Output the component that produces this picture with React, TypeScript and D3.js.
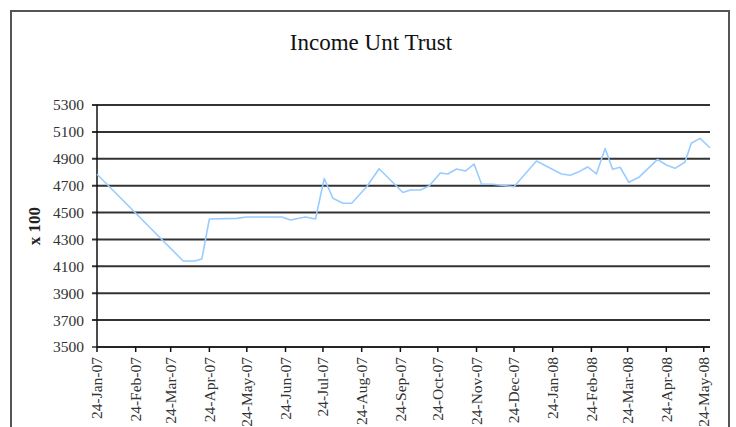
import React from 'react';
import * as d3 from 'd3';

// weekly-ish fund prices (x 100)
const dates = [
  '2007-01-24', '2007-04-03', '2007-04-12', '2007-04-18', '2007-04-24', '2007-05-16',
  '2007-05-24', '2007-06-21', '2007-06-28', '2007-07-10', '2007-07-18', '2007-07-25',
  '2007-08-01', '2007-08-09', '2007-08-16', '2007-08-28', '2007-09-07', '2007-09-20',
  '2007-09-26', '2007-10-02', '2007-10-10', '2007-10-17', '2007-10-26', '2007-11-01',
  '2007-11-08', '2007-11-15', '2007-11-22', '2007-11-28', '2007-12-07', '2007-12-24',
  '2008-01-11', '2008-01-31', '2008-02-07', '2008-02-13', '2008-02-21', '2008-02-28',
  '2008-03-06', '2008-03-12', '2008-03-18', '2008-03-25', '2008-04-02', '2008-04-17',
  '2008-04-24', '2008-05-01', '2008-05-09', '2008-05-14', '2008-05-21', '2008-05-29',
];
const prices = [
  4785, 4140, 4140, 4155, 4452, 4457,
  4467, 4467, 4445, 4467, 4452, 4753,
  4606, 4569, 4569, 4692, 4826, 4705,
  4649, 4668, 4668, 4697, 4794, 4787,
  4824, 4809, 4861, 4712, 4710, 4692,
  4883, 4787, 4777, 4799, 4839, 4787,
  4976, 4822, 4837, 4725, 4762, 4895,
  4854, 4829, 4876, 5015, 5052, 4982,
];
const yTicks = [3500, 3700, 3900, 4100, 4300, 4500, 4700, 4900, 5100, 5300];
const xTickDates = [
  '2007-01-24', '2007-02-24', '2007-03-24', '2007-04-24', '2007-05-24', '2007-06-24',
  '2007-07-24', '2007-08-24', '2007-09-24', '2007-10-24', '2007-11-24', '2007-12-24',
  '2008-01-24', '2008-02-24', '2008-03-24', '2008-04-24', '2008-05-24',
];

const W = 736;
const H = 427;
const margin = { left: 97, right: 26, top: 105, bottom: 80 };
const font = '"Liberation Serif", "DejaVu Serif", serif';

export default function App() {
  const parse = d3.utcParse('%Y-%m-%d');
  const fmt = d3.utcFormat('%d-%b-%y');
  const data = dates.map((d, i) => ({ date: parse(d) as Date, value: prices[i] }));
  const ticks = xTickDates.map(d => parse(d) as Date);

  const x = d3.scaleUtc()
    .domain([data[0].date, data[data.length - 1].date])
    .range([margin.left, W - margin.right]);
  const y = d3.scaleLinear()
    .domain([3500, 5300])
    .range([H - margin.bottom, margin.top]);

  const line = d3.line<{ date: Date; value: number }>()
    .x(d => x(d.date))
    .y(d => y(d.value));

  const x0 = margin.left;
  const x1 = W - margin.right;
  const yBase = y(3500);

  return (
    <svg width={W} height={H} style={{ position: 'absolute', left: 0, top: 0, background: '#fff' }}>
      <rect x={11} y={11} width={718} height={440} fill="#fff" stroke="#555" strokeWidth={2} />
      <text x={371} y={50} textAnchor="middle" fontFamily={font} fontSize={23} fill="#111">
        Income Unt Trust
      </text>

      {/* gridlines */}
      {yTicks.map(t => (
        <g key={t}>
          <line x1={x0 - 5} x2={x1} y1={y(t)} y2={y(t)} stroke="#333" strokeWidth={t === 3500 ? 1.5 : 2} />
          <text x={84} y={y(t)} dy="0.35em" textAnchor="end" fontFamily={font} fontSize={15.5} fill="#333">
            {t}
          </text>
        </g>
      ))}

      {/* axes */}
      <line x1={x0} x2={x0} y1={margin.top} y2={yBase} stroke="#111" strokeWidth={1.5} />
      <line x1={x0} x2={x1} y1={yBase} y2={yBase} stroke="#111" strokeWidth={1.5} />
      {ticks.map((t, i) => (
        <g key={i} transform={`translate(${x(t)},${yBase})`}>
          <line y1={0} y2={5} stroke="#111" strokeWidth={1.5} />
          <text
            transform="translate(0,10) rotate(-90)"
            dy="0.35em"
            textAnchor="end"
            fontFamily={font}
            fontSize={15.5}
            fill="#333"
          >
            {fmt(t)}
          </text>
        </g>
      ))}

      <text
        transform={`translate(40,${(margin.top + yBase) / 2}) rotate(-90)`}
        textAnchor="middle"
        fontFamily={font}
        fontSize={17}
        fontWeight="bold"
        fill="#222"
      >
        x 100
      </text>

      <path d={line(data) ?? ''} fill="none" stroke="#99ccff" strokeWidth={1.6} strokeLinejoin="round" />
    </svg>
  );
}
